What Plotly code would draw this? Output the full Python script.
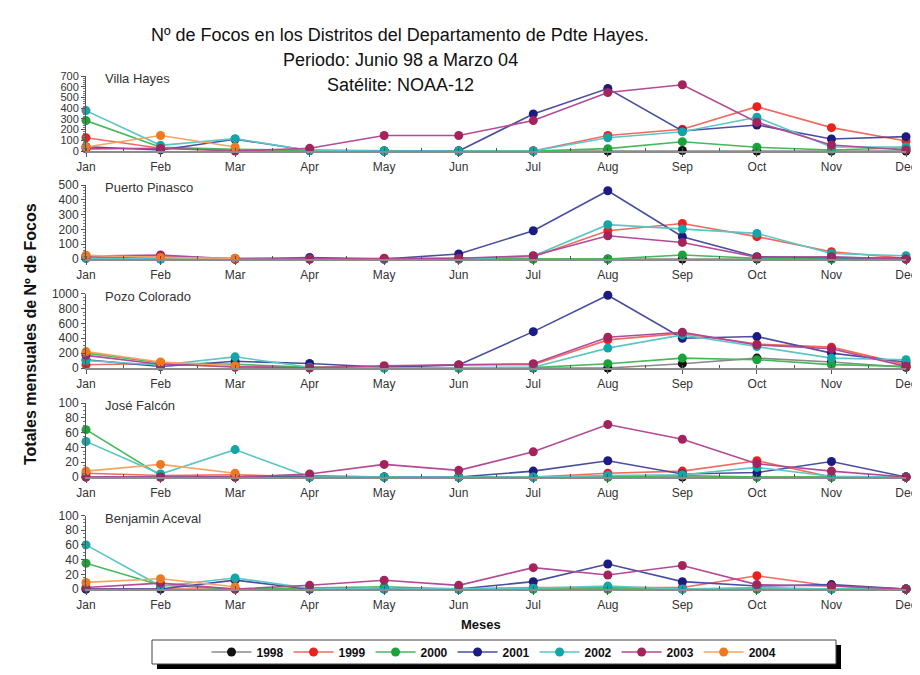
import plotly.graph_objects as go

months = ["Jan", "Feb", "Mar", "Apr", "May", "Jun", "Jul", "Aug", "Sep", "Oct", "Nov", "Dec"]
years = ["1998", "1999", "2000", "2001", "2002", "2003", "2004"]
N = None

villa_hayes = {
    "1998": [N, N, N, N, N, 0, 0, 0, 5, 0, 0, 0],
    "1999": [124, 25, 10, 5, 0, 0, 0, 145, 203, 414, 218, 93],
    "2000": [284, 35, 15, 5, 0, 0, 0, 22, 87, 35, 10, 30],
    "2001": [40, 10, 110, 5, 0, 0, 346, 583, 187, 243, 112, 134],
    "2002": [377, 53, 115, 5, 0, 0, 0, 124, 180, 315, 37, 37],
    "2003": [20, 25, 0, 25, 145, 145, 284, 546, 618, 268, 56, 10],
    "2004": [37, 145, 37, N, N, N, N, N, N, N, N, N],
}
puerto_pinasco = {
    "1998": [N, N, N, N, N, 0, 0, 0, 0, 0, 0, 0],
    "1999": [20, 20, 0, 0, 0, 5, 15, 191, 240, 151, 49, 5],
    "2000": [10, 5, 0, 0, 0, 5, 0, 0, 27, 5, 0, 0],
    "2001": [5, 0, 0, 10, 0, 34, 191, 461, 151, 15, 10, 5],
    "2002": [5, 0, 5, 0, 0, 0, 20, 232, 203, 173, 37, 22],
    "2003": [20, 27, 0, 0, 5, 5, 22, 157, 112, 12, 15, 0],
    "2004": [25, 10, 5, N, N, N, N, N, N, N, N, N],
}
pozo_colorado = {
    "1998": [N, N, N, N, N, 0, 0, 0, 58, 133, 80, 10],
    "1999": [44, 60, 10, 10, 20, 40, 45, 377, 465, 320, 280, 45],
    "2000": [200, 70, 50, 10, 0, 0, 5, 58, 133, 111, 45, 22],
    "2001": [110, 20, 90, 60, 10, 40, 488, 977, 400, 422, 200, 80],
    "2002": [100, 40, 150, 10, 0, 10, 10, 267, 444, 288, 133, 111],
    "2003": [170, 50, 20, 0, 30, 40, 58, 413, 480, 311, 258, 22],
    "2004": [220, 80, 30, N, N, N, N, N, N, N, N, N],
}
jose_falcon = {
    "1998": [N, N, N, N, N, 0, 0, 0, 0, 0, 0, 0],
    "1999": [5, 2, 3, 0, 0, 0, 0, 5, 8, 22, 0, 0],
    "2000": [64, 2, 0, 2, 0, 0, 0, 0, 2, 0, 0, 0],
    "2001": [0, 0, 0, 0, 0, 0, 8, 22, 4, 6, 21, 0],
    "2002": [48, 4, 37, 0, 0, 0, 0, 2, 3, 13, 1, 0],
    "2003": [0, 0, 0, 4, 17, 9, 34, 71, 51, 18, 8, 0],
    "2004": [8, 17, 5, N, N, N, N, N, N, N, N, N],
}
benjamin_aceval = {
    "1998": [N, N, N, N, N, 0, 0, 0, 0, 0, 0, 0],
    "1999": [0, 0, 0, 0, 0, 0, 2, 2, 2, 18, 4, 0],
    "2000": [35, 5, 0, 1, 3, 0, 0, 0, 0, 0, 0, 0],
    "2001": [0, 0, 12, 0, 0, 0, 10, 34, 10, 4, 6, 0],
    "2002": [60, 4, 15, 1, 0, 0, 1, 4, 0, 2, 0, 0],
    "2003": [2, 8, 0, 5, 12, 5, 29, 19, 32, 6, 4, 0],
    "2004": [9, 14, 3, N, N, N, N, N, N, N, N, N],
}

districts = ["Villa Hayes", "Puerto Pinasco", "Pozo Colorado", "José Falcón", "Benjamin Aceval"]
district_data = [villa_hayes, puerto_pinasco, pozo_colorado, jose_falcon, benjamin_aceval]
y_max = [700, 500, 1000, 100, 100]
y_dtick = [100, 100, 200, 20, 20]

marker_colors = {"1998": "#111111", "1999": "#e8231f", "2000": "#1ca23a", "2001": "#1c1c80",
                 "2002": "#12a6a6", "2003": "#a3245c", "2004": "#f07820"}
line_colors = {"1998": "#8a8a8a", "1999": "#f06a60", "2000": "#45b85a", "2001": "#4a4ea0",
               "2002": "#5cc6c6", "2003": "#b34a98", "2004": "#f5a560"}

# page body adds an 8px offset; work in screen pixels and convert
OFF = 8
W, H = 920 - OFF, 675 - OFF


def px(x):
    return (x - OFF) / W


def py(y):
    return 1 - (y - OFF) / H


panel_px = [(151, 76), (259, 185), (368, 293.5), (477, 403), (589, 515.5)]
x_left, x_right = 86, 906

fig = go.Figure()
font_family = "Liberation Sans, Arial, sans-serif"

for i, (name, data) in enumerate(zip(districts, district_data)):
    ax = "" if i == 0 else str(i + 1)
    for yr in years:
        fig.add_trace(go.Scatter(
            x=list(range(12)), y=data[yr], mode="lines+markers", name=yr,
            legendgroup=yr, showlegend=(i == 0),
            line=dict(color=line_colors[yr], width=1.6),
            marker=dict(color=marker_colors[yr], size=9),
            cliponaxis=False, connectgaps=False,
            xaxis="x" + ax, yaxis="y" + ax,
        ))
    zero, top = panel_px[i]
    fig.layout["xaxis" + ax] = dict(
        domain=[px(x_left), px(x_right)], anchor="y" + ax, automargin=False,
        range=[0, 11], showgrid=False, zeroline=False,
        showline=True, linecolor="#8c8c8c", linewidth=1.5,
        ticks="outside", ticklen=4, tickcolor="#555555",
        minor=dict(ticks="inside", ticklen=3, tickcolor="#555555", dtick=0.5, showgrid=False),
        tickfont=dict(family=font_family, size=12, color="#333333"),
        tickmode="array", tickvals=list(range(12)), ticktext=months,
    )
    fig.layout["yaxis" + ax] = dict(
        domain=[py(zero), py(top)], anchor="x" + ax, automargin=False,
        range=[0, y_max[i]], dtick=y_dtick[i], showgrid=False, zeroline=False,
        showline=True, linecolor="#555555", linewidth=1,
        ticks="outside", ticklen=4, tickcolor="#555555",
        minor=dict(ticks="outside", ticklen=2, tickcolor="#777777", showgrid=False),
        tickfont=dict(family=font_family, size=(11 if i == 0 else 12), color="#333333"),
    )
    fig.add_annotation(text=name, xref="paper", yref="paper", x=px(103), y=py(top + 3),
                       xanchor="left", yanchor="middle", showarrow=False,
                       font=dict(family=font_family, size=13, color="#333333"))

title_lines = ["Nº de Focos en los Distritos del Departamento de Pdte Hayes.",
               "Periodo: Junio 98 a Marzo 04", "Satélite: NOAA-12"]
for t, yy in zip(title_lines, [35, 60, 85]):
    fig.add_annotation(text=t, xref="paper", yref="paper", x=px(400), y=py(yy),
                       xanchor="center", yanchor="middle", showarrow=False,
                       font=dict(family=font_family, size=18, color="#111111"))

fig.add_annotation(text="<b>Totales mensuales de Nº de Focos</b>", xref="paper", yref="paper",
                   x=px(30), y=py(334), textangle=-90, showarrow=False,
                   xanchor="center", yanchor="middle",
                   font=dict(family=font_family, size=16, color="#111111"))
fig.add_annotation(text="<b>Meses</b>", xref="paper", yref="paper", x=px(481), y=py(624),
                   showarrow=False, xanchor="center", yanchor="middle",
                   font=dict(family=font_family, size=13, color="#111111"))

# legend box with shadow
fig.add_shape(type="rect", xref="paper", yref="paper", x0=px(157), x1=px(841),
              y0=py(669), y1=py(645), fillcolor="#000000", line=dict(width=0), layer="below")
fig.add_shape(type="rect", xref="paper", yref="paper", x0=px(152), x1=px(836),
              y0=py(664), y1=py(640), fillcolor="#ffffff",
              line=dict(color="#444444", width=1), layer="below")

fig.update_layout(
    width=W, height=H, margin=dict(l=0, r=0, t=0, b=0, autoexpand=False),
    paper_bgcolor="#ffffff", plot_bgcolor="rgba(0,0,0,0)",
    showlegend=True,
    legend=dict(orientation="h", x=px(494), y=py(652), xanchor="center", yanchor="middle",
                bgcolor="rgba(0,0,0,0)", borderwidth=0, itemwidth=40,
                font=dict(family=font_family, size=12, color="#111111", weight="bold"),
                tracegroupgap=0),
)

fig.write_html("out.html")
